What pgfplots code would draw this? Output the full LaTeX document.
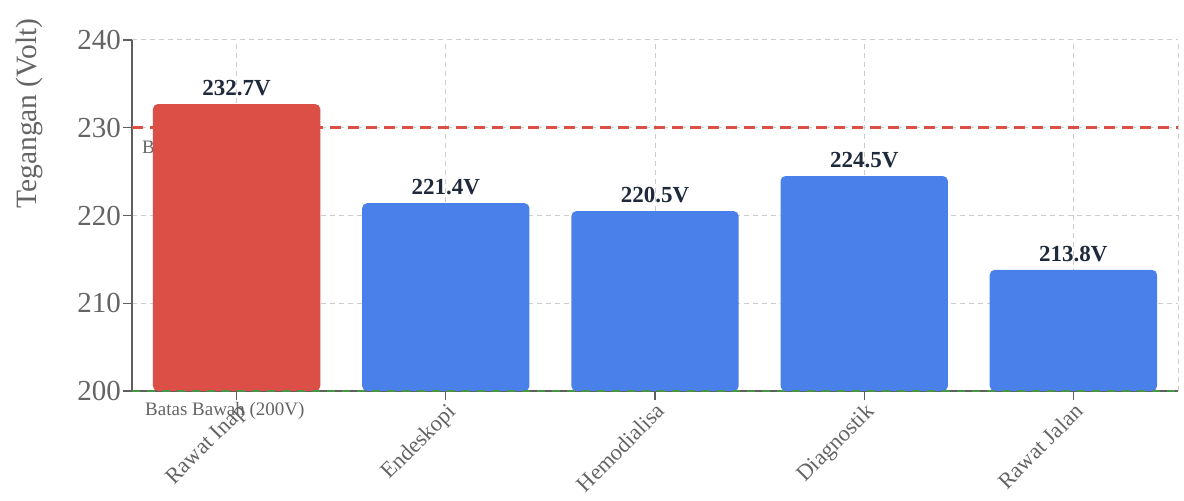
\documentclass[border=0pt]{standalone}
\usepackage{fontspec}
\setmainfont{Liberation Serif}
\usepackage{pgfplots}
\pgfplotsset{compat=1.18}
\usetikzlibrary{calc}
\definecolor{barred}{RGB}{219,79,71}
\definecolor{barblue}{RGB}{74,128,234}
\definecolor{gridc}{RGB}{205,205,205}
\definecolor{axc}{RGB}{95,95,95}
\definecolor{txt}{RGB}{100,100,100}
\definecolor{lab}{RGB}{30,41,59}
\definecolor{lgreen}{RGB}{70,150,70}
\definecolor{lred}{RGB}{218,80,70}
\begin{document}
\begin{tikzpicture}
\begin{axis}[
  scale only axis, width=1046pt, height=351pt,
  xmin=-0.5, xmax=4.5, ymin=200, ymax=240,
  /pgf/number format/assume math mode=true,
  xtick={0,...,4},
  xticklabels={Rawat Inap,Endeskopi,Hemodialisa,Diagnostik,Rawat Jalan},
  ytick={200,210,220,230,240},
  axis x line*=bottom, axis y line*=left,
  axis line style={axc, line width=1.3pt, -},
  major tick length=9pt, tick style={axc, line width=1.3pt},
  tick align=outside,
  grid=major,
  major grid style={gridc, dash pattern=on 5pt off 4pt, line width=1pt},
  extra x ticks={4.5}, extra x tick labels={},
  extra x tick style={grid=major, major tick length=0pt},
  yticklabel style={font=\fontsize{29}{31}\selectfont, text=txt, inner sep=2pt},
  xticklabel style={font=\fontsize{22.5}{24}\selectfont, text=txt, rotate=45, anchor=north east, inner sep=1pt},
  ylabel={Tegangan (Volt)},
  ylabel style={font=\fontsize{29.5}{31}\selectfont, text=txt, at={(axis description cs:-0.098,0.79)}, anchor=center},
  bar width=0.8, bar shift=0pt,
]
\addplot[lred, line width=3.5pt, dash pattern=on 11pt off 7pt, forget plot] coordinates {(-0.5,230) (4.5,230)};
\node[anchor=north west, font=\fontsize{19}{21}\selectfont, text=txt, inner sep=0pt] at (axis cs:-0.5,230) [xshift=10pt, yshift=-12pt] {Batas Atas (230V)};
\addplot[ybar, fill=barred, draw=none, rounded corners=5pt,
  nodes near coords={\pgfmathprintnumber[fixed,precision=1,fixed zerofill]{\pgfplotspointmeta}V},
  nodes near coords style={font=\bfseries\fontsize{23}{25}\selectfont, text=lab, anchor=south, inner sep=0pt, yshift=8pt}]
  coordinates {(0,232.7)};
\addplot[ybar, fill=barblue, draw=none, rounded corners=5pt,
  nodes near coords={\pgfmathprintnumber[fixed,precision=1,fixed zerofill]{\pgfplotspointmeta}V},
  nodes near coords style={font=\bfseries\fontsize{23}{25}\selectfont, text=lab, anchor=south, inner sep=0pt, yshift=8pt}]
  coordinates {(1,221.4) (2,220.5) (3,224.5) (4,213.8)};
\coordinate (g1) at (axis cs:-0.5,200);
\coordinate (g2) at (axis cs:4.5,200);
\end{axis}
\draw[lgreen, line width=2.5pt, dash pattern=on 8pt off 7pt] (g1) -- (g2);
\node[anchor=north west, font=\fontsize{19}{21}\selectfont, text=txt, inner sep=0pt] at (g1) [xshift=13pt, yshift=-11pt] {Batas Bawah (200V)};
\pgfresetboundingbox
\path[use as bounding box] ($(current axis.south west)+(-132pt,-109pt)$) rectangle ($(current axis.north east)+(6pt,40pt)$);
\end{tikzpicture}
\end{document}
